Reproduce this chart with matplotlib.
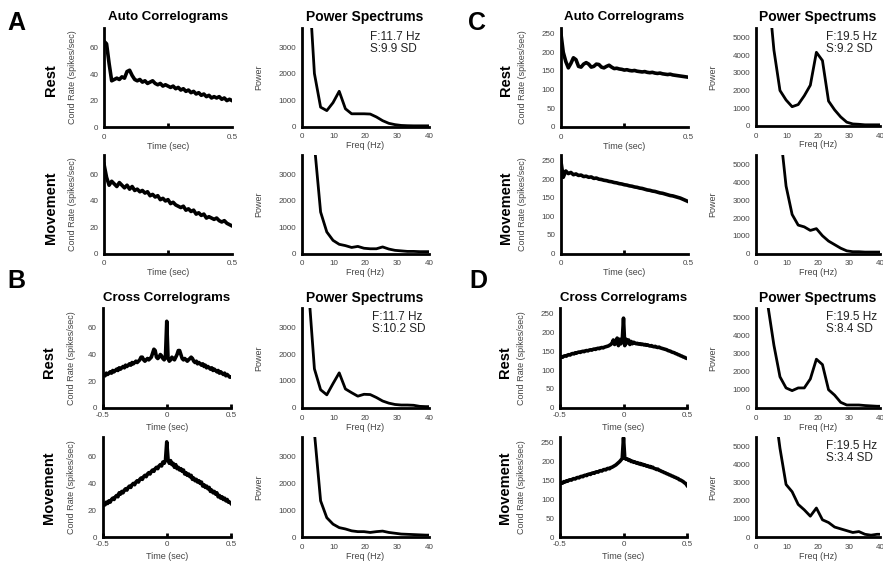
import matplotlib
matplotlib.use('Agg')
import matplotlib.pyplot as plt
import numpy as np

plt.rcParams['font.family'] = ['Liberation Sans', 'DejaVu Sans']

# ---------------- data ----------------
lag_auto = np.round(np.arange(0, 0.501, 0.01), 2)
lag_cross = np.round(np.arange(-0.5, 0.501, 0.01), 2)

freq = [1.95, 3.91, 5.86, 7.81, 9.77, 11.72, 13.67, 15.63, 17.58, 19.53, 21.48,
        23.44, 25.39, 27.34, 29.30, 31.25, 33.20, 35.16, 37.11, 39.06, 41.02]

A_rest_auto = [65, 63, 48, 35, 36, 37, 36, 38, 37, 42, 43, 39, 36, 35, 36, 34, 35, 33, 34, 35,
               33, 32, 33, 31, 32, 31, 30, 31, 29, 30, 28, 29, 27, 28, 26, 27, 25, 26, 24, 25,
               23, 24, 22, 23, 22, 23, 21, 22, 20, 21, 20]
A_mov_auto = [68, 58, 52, 55, 53, 51, 54, 52, 50, 52, 49, 51, 48, 49, 47, 48, 46, 47, 44, 45,
              43, 44, 41, 42, 40, 41, 38, 39, 37, 36, 35, 36, 33, 34, 32, 33, 30, 31, 29, 30,
              27, 28, 27, 26, 27, 25, 24, 25, 23, 22, 21]
B_rest_cross = [24, 25, 24, 26, 25, 26, 27, 26, 28, 27, 28, 29, 28, 30, 29, 30, 31, 30, 32, 31,
                32, 33, 32, 34, 33, 34, 35, 34, 35, 36, 38, 38, 36, 35, 36, 37, 36, 37, 38, 41,
                44, 43, 38, 37, 38, 40, 39, 37, 36, 38, 65, 37, 35, 36, 38, 37, 36, 38, 40, 43,
                43, 40, 37, 36, 37, 36, 35, 36, 37, 38, 37, 35, 34, 35, 33, 34, 33, 32, 33, 31,
                32, 30, 31, 30, 29, 30, 28, 29, 28, 27, 28, 26, 27, 26, 25, 26, 24, 25, 24, 23, 23]
B_mov_cross = [23, 25, 24, 26, 25, 27, 26, 28, 29, 28, 30, 31, 30, 33, 32, 34, 33, 35, 36, 35,
               37, 38, 37, 39, 40, 39, 41, 42, 41, 43, 44, 43, 45, 46, 45, 47, 48, 47, 49, 50,
               49, 51, 52, 51, 53, 54, 53, 56, 55, 57, 71,
               58, 55, 57, 54, 55, 52, 54, 51, 52, 50, 51, 49, 50, 47, 48, 46, 47, 45, 46, 43,
               44, 42, 43, 41, 42, 40, 41, 38, 39, 37, 38, 36, 37, 34, 35, 33, 34, 32, 33, 30,
               31, 29, 30, 28, 29, 27, 28, 26, 26, 25]
C_rest_auto = [255, 200, 175, 158, 170, 185, 180, 162, 160, 168, 172, 168, 160, 162, 168, 167,
               160, 158, 162, 165, 160, 156, 157, 155, 154, 152, 153, 151, 150, 151, 149, 148,
               147, 148, 146, 145, 146, 144, 143, 144, 142, 141, 140, 141, 139, 138, 137, 136,
               135, 134, 133]
C_mov_auto = [252, 205, 222, 215, 218, 212, 214, 210, 211, 207, 208, 205, 206, 202, 203, 200,
              199, 197, 196, 194, 193, 191, 190, 188, 187, 185, 184, 182, 181, 179, 178, 176,
              175, 173, 171, 170, 168, 167, 165, 163, 162, 160, 158, 156, 155, 153, 151, 149,
              146, 143, 140]
D_rest_cross = [132, 135, 134, 137, 138, 137, 140, 141, 140, 143,
                144, 143, 146, 145, 147, 148, 147, 149, 150, 149,
                151, 152, 151, 153, 154, 153, 155, 156, 155, 157,
                158, 157, 159, 160, 159, 161, 162, 163, 164, 166,
                168, 172, 180, 168, 175, 185, 165, 182, 170, 178,
                238,
                165, 182, 172, 180, 168, 176, 170, 174, 172, 170,
                171, 169, 170, 168, 169, 167, 168, 166, 167, 165,
                164, 165, 163, 162, 163, 161, 160, 161, 159, 158,
                157, 156, 155, 154, 152, 151, 150, 148, 147, 146,
                144, 143, 141, 140, 138, 137, 135, 134, 132, 131]
D_mov_cross = [140, 143, 142, 146, 145, 148, 147, 150, 151, 150,
               153, 154, 153, 156, 157, 156, 159, 160, 159, 162,
               163, 162, 165, 166, 165, 168, 169, 168, 171, 172,
               171, 174, 175, 174, 177, 178, 177, 180, 181, 180,
               183, 184, 186, 188, 190, 193, 196, 199, 203, 207,
               262,
               208, 205, 206, 202, 203, 199, 200, 197, 198, 195,
               196, 193, 194, 191, 192, 189, 190, 187, 188, 185,
               186, 183, 184, 181, 180, 178, 179, 176, 175, 173,
               172, 170, 169, 167, 166, 164, 163, 161, 160, 158,
               157, 155, 154, 151, 150, 148, 146, 143, 141, 136]

A_rest_pow = [5900, 2000, 730, 600, 900, 1330, 670, 480, 480, 480, 470, 360, 220, 120, 70, 40, 30, 25, 25, 25, 25]
A_mov_pow = [6500, 4140, 1580, 820, 500, 350, 300, 230, 270, 200, 180, 180, 250, 170, 120, 100, 80, 80, 70, 70, 70]
B_rest_pow = [4610, 1450, 670, 480, 900, 1300, 700, 560, 430, 500, 490, 380, 250, 170, 120, 100, 100, 90, 50, 40, 40]
B_mov_pow = [6000, 3900, 1350, 720, 480, 350, 300, 230, 200, 200, 170, 200, 220, 170, 140, 110, 100, 90, 80, 70, 70]
C_rest_pow = [12000, 8000, 4300, 2000, 1460, 1080, 1200, 1700, 2300, 4170, 3700, 1400, 900, 500, 200, 100, 80, 50, 50, 50, 50]
C_mov_pow = [15000, 11000, 9000, 7000, 3800, 2200, 1600, 1500, 1300, 1400, 1000, 700, 500, 300, 150, 100, 100, 80, 80, 80, 80]
D_rest_pow = [12000, 5700, 3480, 1720, 1100, 950, 1100, 1100, 1600, 2700, 2400, 1000, 700, 300, 150, 150, 150, 120, 100, 80, 80]
D_mov_pow = [20000, 12000, 7400, 4900, 2900, 2500, 1800, 1500, 1150, 1600, 950, 800, 550, 450, 350, 250, 300, 150, 100, 150, 150]

peak_text = {
    'A': 'F:11.7 Hz\nS:9.9 SD',
    'B': 'F:11.7 Hz\nS:10.2 SD',
    'C': 'F:19.5 Hz\nS:9.2 SD',
    'D_rest': 'F:19.5 Hz\nS:8.4 SD',
    'D_mov': 'F:19.5 Hz\nS:3.4 SD',
}

# ---------------- figure ----------------
W, H = 883, 564
fig = plt.figure(figsize=(W / 100, H / 100), dpi=100)
GRAY = '#444444'


def add_ax(x0, x1, ytop, ybot):
    return fig.add_axes([x0 / W, 1 - ybot / H, (x1 - x0) / W, (ybot - ytop) / H])


def style(ax):
    for s in ['top', 'right']:
        ax.spines[s].set_visible(False)
    for s in ['left', 'bottom']:
        ax.spines[s].set_linewidth(2.0)
        ax.spines[s].set_color('black')
    ax.tick_params(axis='both', labelsize=5.8, labelcolor=GRAY, direction='in')
    ax.tick_params(axis='y', length=0, pad=4)
    ax.patch.set_alpha(0)


def corr(box, x, y, ylim, yticks, cross, ylab_x):
    ax = add_ax(*box)
    ax.plot(x, y, color='black', lw=2.6)
    style(ax)
    ax.set_ylim(0, ylim)
    ax.set_yticks(yticks)
    if cross:
        ax.set_xlim(-0.5, 0.5)
        ax.set_xticks([-0.5, 0, 0.5])
        ax.set_xticklabels(['-0.5', '0', '0.5'])
        ax.tick_params(axis='x', length=3, width=2, pad=3)
    else:
        ax.set_xlim(0, 0.5)
        ax.set_xticks([0, 0.5])
        ax.set_xticklabels(['0', '0.5'])
        ax.set_xticks([0.25], minor=True)
        ax.tick_params(axis='x', which='major', length=0, pad=5)
        ax.tick_params(axis='x', which='minor', length=3, width=2, direction='in')
    ax.set_ylabel('Cond Rate (spikes/sec)', fontsize=6.5, color=GRAY)
    ax.yaxis.set_label_coords(ylab_x, 0.5)
    ax.set_xlabel('Time (sec)', fontsize=6.5, color=GRAY)
    ax.xaxis.set_label_coords(0.5, -0.15)
    return ax


def spec(box, y, ylim, yticks, txt, ylab_x, tx):
    ax = add_ax(*box)
    ax.plot(freq, y, color='black', lw=2.0)
    style(ax)
    ax.set_xlim(0, 40)
    ax.set_ylim(0, ylim)
    ax.set_xticks([0, 10, 20, 30, 40])
    ax.set_yticks(yticks)
    ax.tick_params(axis='x', length=0, pad=5)
    ax.set_ylabel('Power', fontsize=6.5, color=GRAY)
    ax.yaxis.set_label_coords(ylab_x, 0.5)
    ax.set_xlabel('Freq (Hz)', fontsize=6.5, color=GRAY)
    ax.xaxis.set_label_coords(0.5, -0.15)
    if txt:
        ax.text(tx, 0.97, txt, transform=ax.transAxes, ha='left', va='top',
                fontsize=8.5, color='#222222', linespacing=1.05)
    return ax


ytA = [0, 20, 40, 60]
ytC = [0, 50, 100, 150, 200, 250]
ypA = [0, 1000, 2000, 3000]
ypC = [0, 1000, 2000, 3000, 4000, 5000]

# A
corr((104, 232, 28, 127), lag_auto, A_rest_auto, 75, ytA, False, -0.21)
spec((302, 429, 28, 126.5), A_rest_pow, 3720, ypA, peak_text['A'], -0.305, 0.535)
corr((104, 232, 155, 253.5), lag_auto, A_mov_auto, 75, ytA, False, -0.21)
spec((302, 429, 155, 253.5), A_mov_pow, 3750, ypA, None, -0.305, 0.535)
# B
corr((102.5, 231, 308, 407.7), lag_cross, B_rest_cross, 75, ytA, True, -0.21)
spec((302, 429, 308, 407.7), B_rest_pow, 3720, ypA, peak_text['B'], -0.305, 0.55)
corr((102.5, 231, 436.5, 537), lag_cross, B_mov_cross, 75, ytA, True, -0.21)
spec((302, 429, 436.5, 537), B_mov_pow, 3750, ypA, None, -0.305, 0.55)
# C
corr((560.7, 688, 28, 126.7), lag_auto, C_rest_auto, 265, ytC, False, -0.265)
spec((755.7, 880, 28, 125.7), C_rest_pow, 5550, ypC, peak_text['C'], -0.31, 0.563)
corr((560.7, 688, 155, 253.5), lag_auto, C_mov_auto, 265, ytC, False, -0.265)
spec((755.7, 880, 155, 253.5), C_mov_pow, 5550, ypC, None, -0.31, 0.563)
# D
corr((560, 687, 308, 407.7), lag_cross, D_rest_cross, 265, ytC, True, -0.265)
spec((755.7, 880, 308, 407.7), D_rest_pow, 5550, ypC, peak_text['D_rest'], -0.31, 0.563)
corr((560, 687, 436.5, 537), lag_cross, D_mov_cross, 265, ytC, True, -0.265)
spec((755.7, 880, 436.5, 537), D_mov_pow, 5550, ypC, peak_text['D_mov'], -0.31, 0.563)

# titles
def ftext(x, y, s, **kw):
    fig.text(x / W, 1 - y / H, s, ha='center', va='center', **kw)

for cx, px, y, name in [(168, 365, 17, 'Auto Correlograms'), (624, 818, 17, 'Auto Correlograms'),
                        (167, 365, 298, 'Cross Correlograms'), (624, 818, 298, 'Cross Correlograms')]:
    ftext(cx, y, name, fontsize=9.5, fontweight='bold')
    ftext(px, y, 'Power Spectrums', fontsize=10, fontweight='bold')

for x, y, s in [(16, 23.5, 'A'), (16, 281.5, 'B'), (477, 23.5, 'C'), (478, 281.5, 'D')]:
    ftext(x, y, s, fontsize=18, fontweight='bold')

for x, y, s in [(51, 80, 'Rest'), (51, 208, 'Movement'), (49, 362, 'Rest'), (49, 488, 'Movement'),
                (506, 80, 'Rest'), (506, 208, 'Movement'), (505, 362, 'Rest'), (505, 488, 'Movement')]:
    ftext(x, y, s, fontsize=10.5, fontweight='bold', rotation=90)

fig.savefig('out.png', dpi=100)
